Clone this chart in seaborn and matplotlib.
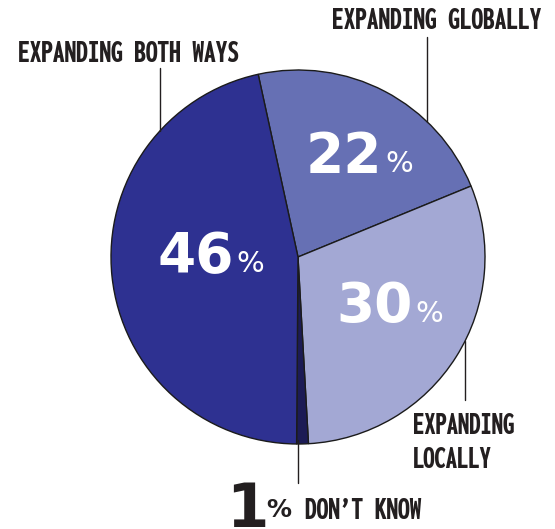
import matplotlib
matplotlib.use("Agg")
import matplotlib.pyplot as plt
from matplotlib import font_manager
import seaborn as sns

sns.set_theme(style="white")

# Survey shares, in clockwise order starting from the top
categories = ["EXPANDING GLOBALLY", "EXPANDING LOCALLY", "DON’T KNOW", "EXPANDING BOTH WAYS"]
shares = [22, 30, 1, 46]
colors = ["#6670b4", "#a3a8d4", "#1c1b55", "#2e3191"]

W, H = 555, 529
fig = plt.figure(figsize=(W / 100, H / 100), dpi=100)
ax = fig.add_axes([0, 0, 1, 1])


def py(y):
    # pixel row (top-down) to data y
    return H - y


def condensed_heavy():
    """Pick the narrowest heavy sans face that is installed."""
    prefs = ["extracondensedblack", "extracondensedextrabold", "extracondensedbold",
             "condensedblack", "condensedextrabold",
             "narrow-bold", "narrowbold", "condensed-bold", "condensedbold",
             "semicondensedbold"]
    files = [f.fname for f in font_manager.fontManager.ttflist]
    for key in prefs:
        for fn in sorted(files):
            base = fn.lower().replace(" ", "").split("/")[-1]
            if (key in base and "italic" not in base and "mono" not in base
                    and "serif" not in base):
                return font_manager.FontProperties(fname=fn)
    return font_manager.FontProperties(family="DejaVu Sans", weight="bold")


lab_fp = condensed_heavy()
ink = "#231f20"

cx, cy, r = 298, 257, 187
ax.pie(shares, colors=colors, startangle=102.3, counterclock=False,
       center=(cx, py(cy)), radius=r, frame=True,
       wedgeprops=dict(edgecolor="#1b1b1b", linewidth=1.0))
ax.set_xlim(0, W)
ax.set_ylim(0, H)
ax.set_aspect("equal")
ax.axis("off")

renderer = fig.canvas.get_renderer()


def fit_text(x, ybase, s, width, cap_pt=24, ha="left"):
    # size the label so it spans the given width
    t = ax.text(x, py(ybase), s, fontproperties=lab_fp.copy(), color=ink,
                ha=ha, va="baseline")
    t.set_fontsize(20)
    w = t.get_window_extent(renderer).width
    t.set_fontsize(min(20 * width / w, cap_pt))
    return t


num_font = ["DejaVu Sans"]

# white percentage labels inside the big slices: (index, x, baseline)
inside = [(0, 306, 172), (1, 336, 322), (3, 157, 272)]
for i, x, yb in inside:
    t = ax.text(x, py(yb), f"{shares[i]}", color="white", fontsize=39.5,
                fontweight="bold", family=num_font, ha="left", va="baseline")
    bb = t.get_window_extent(renderer)
    ax.text(bb.x1 + 3, py(yb), "%", color="white", fontsize=21,
            family=num_font, ha="left", va="baseline")

# outside labels with leader lines
fit_text(18, 62, categories[3], 225)
ax.plot([160, 160], [py(68), py(131)], color=ink, lw=1.0)

fit_text(541, 29, categories[0], 209, ha="right")
ax.plot([427, 427], [py(37), py(122)], color=ink, lw=1.0)

loc1, loc2 = categories[1].split(" ")
t = fit_text(413, 434, loc1, 102)
ax.text(413, py(468), loc2, fontproperties=lab_fp, fontsize=t.get_fontsize(),
        color=ink, ha="left", va="baseline")
ax.plot([465, 465], [py(341), py(400)], color=ink, lw=1.0)

ax.plot([298, 298], [py(440), py(483)], color=ink, lw=1.0)
ax.text(226, py(527), f"{shares[2]}", color=ink, fontsize=44,
        fontweight="bold", family=num_font, ha="left", va="baseline")
ax.text(266, py(517), "%", color=ink, fontsize=18, fontweight="bold",
        family=num_font, ha="left", va="baseline")
fit_text(305, 519, categories[2], 120)

fig.savefig("out.png", dpi=100, facecolor="white")
